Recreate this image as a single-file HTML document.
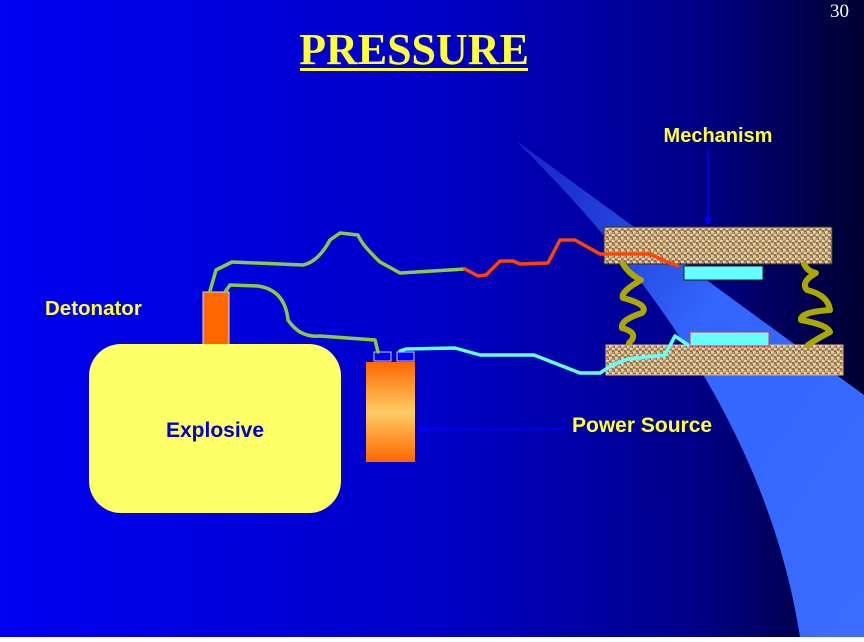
<!DOCTYPE html>
<html><head><meta charset="utf-8"><style>
html,body{margin:0;padding:0;}
body{width:864px;height:637px;overflow:hidden;}
</style></head><body>
<svg width="864" height="637" viewBox="0 0 864 637" xmlns="http://www.w3.org/2000/svg">
<defs>
<linearGradient id="bg" x1="0" y1="0" x2="1" y2="0">
<stop offset="0" stop-color="#0000f2"/><stop offset="0.5" stop-color="#0000c8"/><stop offset="0.8" stop-color="#00008a"/><stop offset="1" stop-color="#000030"/>
</linearGradient>
<linearGradient id="beam" x1="0" y1="0" x2="1" y2="1">
<stop offset="0" stop-color="#2a4ae0" stop-opacity="0.5"/><stop offset="0.45" stop-color="#3366ff"/><stop offset="1" stop-color="#3a6cff"/>
</linearGradient>
<linearGradient id="bat" x1="0" y1="0" x2="0" y2="1">
<stop offset="0" stop-color="#ff6600"/><stop offset="0.5" stop-color="#ffcc66"/><stop offset="1" stop-color="#ff6600"/>
</linearGradient>
<pattern id="tex" width="6" height="6" patternUnits="userSpaceOnUse">
<rect width="6" height="6" fill="#b89868"/>
<path d="M0 1h3M3 4h3M1 0v3M4 3v3" stroke="#f4e6c8" stroke-width="1"/>
<path d="M0 3h2M4 1v1M2 5h1" stroke="#5a3a18" stroke-width="1"/>
</pattern>
</defs>
<rect width="864" height="637" fill="url(#bg)"/>
<path d="M515 140 L864 395 L864 637 L800 637 Q760 380 515 140 Z" fill="url(#beam)"/>
<text x="849" y="17" font-family="Liberation Serif,serif" font-size="19" fill="#fff" text-anchor="end">30</text>
<text x="414" y="64" font-family="Liberation Serif,serif" font-size="44" font-weight="bold" fill="#ffff33" text-anchor="middle">PRESSURE</text>
<rect x="300" y="68" width="228" height="3" fill="#ffff33"/>
<text x="718" y="142" font-family="Liberation Sans,sans-serif" font-size="20" font-weight="bold" fill="#ffff33" text-anchor="middle">Mechanism</text>
<line x1="708" y1="150" x2="708" y2="222" stroke="#0000ff" stroke-width="1.5"/>
<path d="M704 218 L708 225 L712 218Z" fill="#0000ff"/>
<text x="45" y="315" font-family="Liberation Sans,sans-serif" font-size="20.5" font-weight="bold" fill="#ffff33">Detonator</text>
<text x="572" y="432" font-family="Liberation Sans,sans-serif" font-size="21" font-weight="bold" fill="#ffff33">Power Source</text>
<line x1="420" y1="429" x2="565" y2="429" stroke="#0000ff" stroke-width="1.5"/>
<path d="M425 425 L418 429 L425 433Z" fill="#0000ff"/>
<rect x="203" y="292" width="26" height="56" fill="#ff6600" stroke="#ddd" stroke-width="1"/>
<rect x="89" y="344" width="252" height="169" rx="32" fill="#ffff66"/>
<text x="215" y="437" font-family="Liberation Sans,sans-serif" font-size="21" font-weight="bold" fill="#0000cc" text-anchor="middle">Explosive</text>
<rect x="366" y="362" width="49" height="100" fill="url(#bat)"/>
<rect x="374" y="352" width="17" height="9" fill="#0000ff" stroke="#ccc"/>
<rect x="397" y="352" width="17" height="9" fill="#0000ff" stroke="#ccc"/>
<rect x="604" y="227" width="228" height="37" fill="url(#tex)" stroke="#333"/>
<rect x="606" y="345" width="237" height="30" fill="url(#tex)" stroke="#e0b070"/>
<rect x="684" y="266" width="79" height="14" fill="#66ffff" stroke="#222"/>
<rect x="690" y="332" width="79" height="14" fill="#66ffff" stroke="#ee2244"/>
<g fill="none" stroke="#aaa800" stroke-width="6" stroke-linecap="round" stroke-linejoin="round">
<path d="M623 264 Q630 275 641 280 Q620 292 623 298 Q650 305 642 313 Q620 320 622 328 Q640 333 629 343"/>
<path d="M804 264 Q808 272 816 273 Q800 282 807 290 Q828 295 830 310 Q800 312 801 320 Q828 325 830 332 Q815 340 808 345"/>
</g>
<g fill="none" stroke-width="3.5" stroke-linejoin="round" stroke-linecap="round">
<path d="M210 291 L216 270 L232 262 L303 265 Q318 262 330 240 L340 233 L358 235 Q362 245 380 262 L400 273 L465 269" stroke="#88cc44"/>
<path d="M465 269 L478 276 L486 275 L500 261 L513 261 L520 264 L548 263 L560 240 L575 240 L600 254 L650 254 L665 261 L678 266" stroke="#ff4400"/>
<path d="M225 292 L230 285 L258 286 Q285 290 288 320 Q300 338 320 336 L375 340 L378 352" stroke="#88cc44"/>
<path d="M400 351 L406 349 L455 348 L480 355 L534 355 L580 373 L600 373 L612 365 L628 359 L665 355 L675 336 L688 345" stroke="#66ffff"/>
</g>
</svg>
</body></html>
